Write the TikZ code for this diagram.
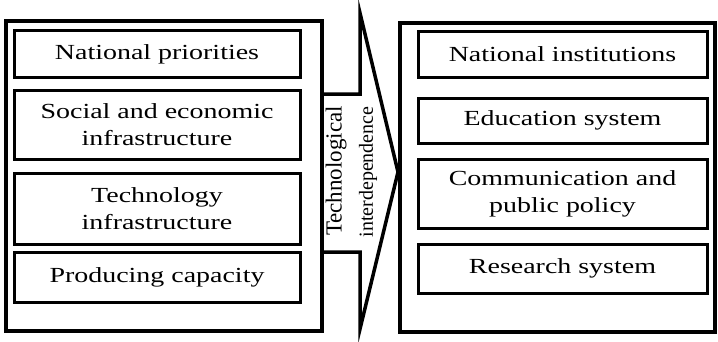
\documentclass[tikz,border=0pt]{standalone}
\usepackage{fontspec}
\setmainfont{Liberation Serif}[FakeStretch=1.3]
\newfontfamily\arrowfont{Liberation Serif}

\begin{document}
\begin{tikzpicture}[x=1pt,y=1pt,
    outer/.style={draw,line width=4pt,inner sep=0pt},
    item/.style={draw,line width=3pt,align=center,inner sep=0pt,
      minimum width=#1,font=\fontsize{21.5}{27}\selectfont},
    item/.default=286pt]
  \useasboundingbox (0,0) rectangle (718,341);
  % left block
  \node[outer,minimum width=316pt,minimum height=310pt] (left) at (164,165) {};
  \node[item,minimum height=46pt] (priorities) at (157,287) {National priorities};
  \node[item,minimum height=69pt] (social) at (157,216.5)
    {Social and economic\\infrastructure};
  \node[item,minimum height=71pt] (techinfra) at (157,132.5)
    {Technology\\infrastructure};
  \node[item,minimum height=50pt] (capacity) at (157,64) {Producing capacity};
  % right block
  \node[outer,minimum width=315pt,minimum height=309pt] (right) at (557.5,163.5) {};
  \node[item=289pt,minimum height=45pt] (institutions) at (562.5,286.5)
    {National institutions};
  \node[item=289pt,minimum height=45pt] (education) at (562.5,220.5)
    {Education system};
  \node[item=289pt,minimum height=69pt] (communication) at (562.5,147.5)
    {Communication and\\public policy};
  \node[item=289pt,minimum height=49pt] (research) at (562.5,72.5)
    {Research system};
  % arrow
  \coordinate (shafttop) at (left.east |- 0,247);
  \coordinate (shaftbot) at (left.east |- 0,89);
  \coordinate (tip) at (398,169);
  \draw[line width=3.5pt]
    (shafttop) -- (360,247) -- (360,328) -- (tip)
    -- (360,12) -- (360,89) -- (shaftbot);
  \node[rotate=90,inner sep=0pt,font=\arrowfont\fontsize{23}{23}\selectfont]
    (technological) at (336,170) {Technological};
  \node[rotate=90,inner sep=0pt,font=\arrowfont\fontsize{20}{20}\selectfont]
    (interdependence) at (368,169) {interdependence};
\end{tikzpicture}
\end{document}
